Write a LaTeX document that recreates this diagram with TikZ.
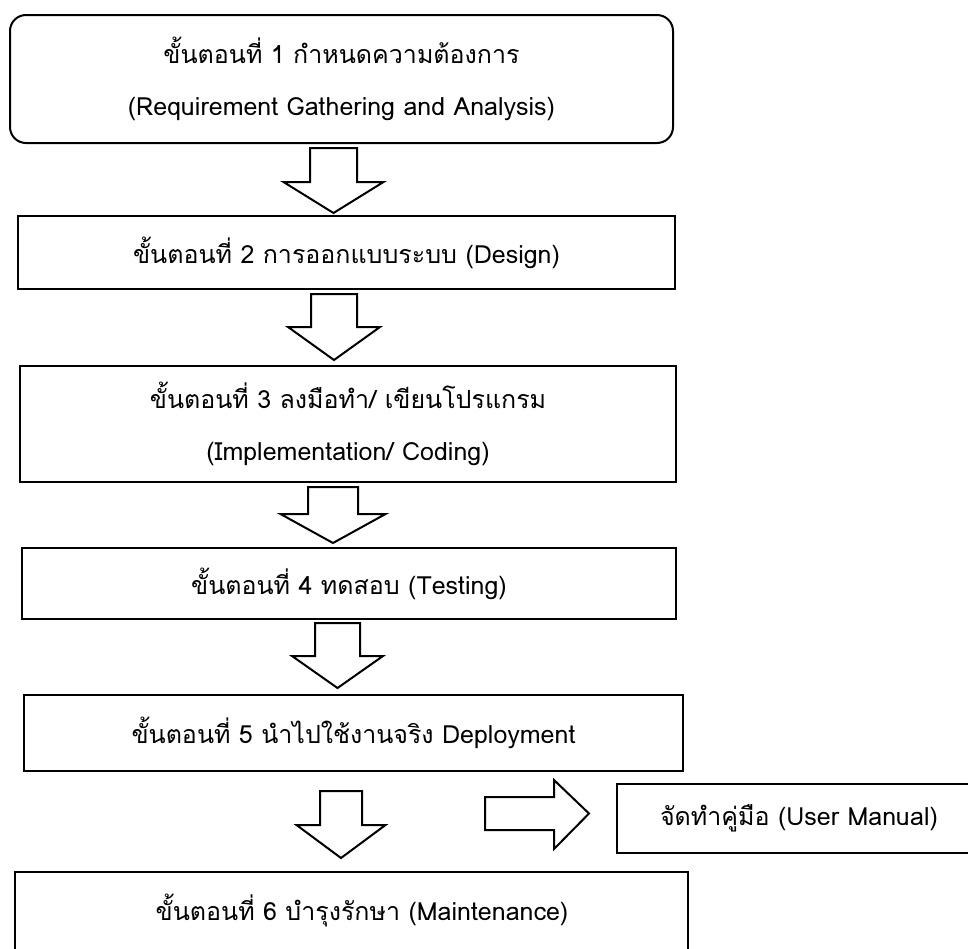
\documentclass[tikz,border=0pt]{standalone}
\usepackage{fontspec}
\newfontfamily\thaifont[Script=Thai]{Loma}
\begin{document}
\begin{tikzpicture}[x=1pt,y=-1pt,
  box/.style={draw, line width=2pt, inner sep=0pt, align=center,
    font=\thaifont\fontsize{25}{52}\selectfont},
  txt/.style={inner sep=0pt, font=\thaifont\fontsize{25}{30}\selectfont},
  blk/.style={draw, line width=2pt, fill=white, line join=miter}]
\useasboundingbox (0,0) rectangle (968,948);
% boxes
\node[box, rounded corners=16pt, minimum width=663pt, minimum height=128pt] (b1) at (341.5,79)
  {ขั้นตอนที่ 1 กำหนดความต้องการ\\(Requirement Gathering and Analysis)};
\node[box, minimum width=657pt, minimum height=73pt] (b2) at (346.5,252.5)
  {ขั้นตอนที่ 2 การออกแบบระบบ (Design)};
\node[box, minimum width=656pt, minimum height=116pt] (b3) at (348,424)
  {ขั้นตอนที่ 3 ลงมือทำ/ เขียนโปรแกรม\\(Implementation/ Coding)};
\node[box, minimum width=654pt, minimum height=71pt] (b4) at (349,583.5)
  {ขั้นตอนที่ 4 ทดสอบ (Testing)};
\node[box, minimum width=659pt, minimum height=76pt] (b5) at (353.5,733)
  {ขั้นตอนที่ 5 นำไปใช้งานจริง Deployment};
\node[box, minimum width=673pt, minimum height=90pt] (b6) at (351.5,917) {};
\node[txt] (t6) at (362,910) {ขั้นตอนที่ 6 บำรุงรักษา (Maintenance)};
\node[box, minimum width=358pt, minimum height=69pt] (m) at (796,818.5) {};
\node[txt] (tm) at (799,818) {จัดทำคู่มือ (User Manual)};
% block arrows
\newcommand\blkdown[6]{% cx, shaft half width, top, wing half width, wing y, tip y
  \draw[blk] (#1-#2,#3) -- (#1+#2,#3) -- (#1+#2,#5) -- (#1+#4,#5) -- (#1,#6)
    -- (#1-#4,#5) -- (#1-#2,#5) -- cycle;}
\blkdown{333.5}{23.5}{148}{50}{182}{213}
\blkdown{334}{23}{294}{46}{327}{360}
\blkdown{333}{25}{487}{52.5}{514}{543}
\blkdown{337.5}{22.5}{623}{45.5}{656}{688}
\blkdown{341}{21}{791}{44.5}{825}{858}
\draw[blk] (485,797) -- (554,797) -- (554,780) -- (589,813.5) -- (554,849)
  -- (554,830) -- (485,830) -- cycle;
\end{tikzpicture}
\end{document}
